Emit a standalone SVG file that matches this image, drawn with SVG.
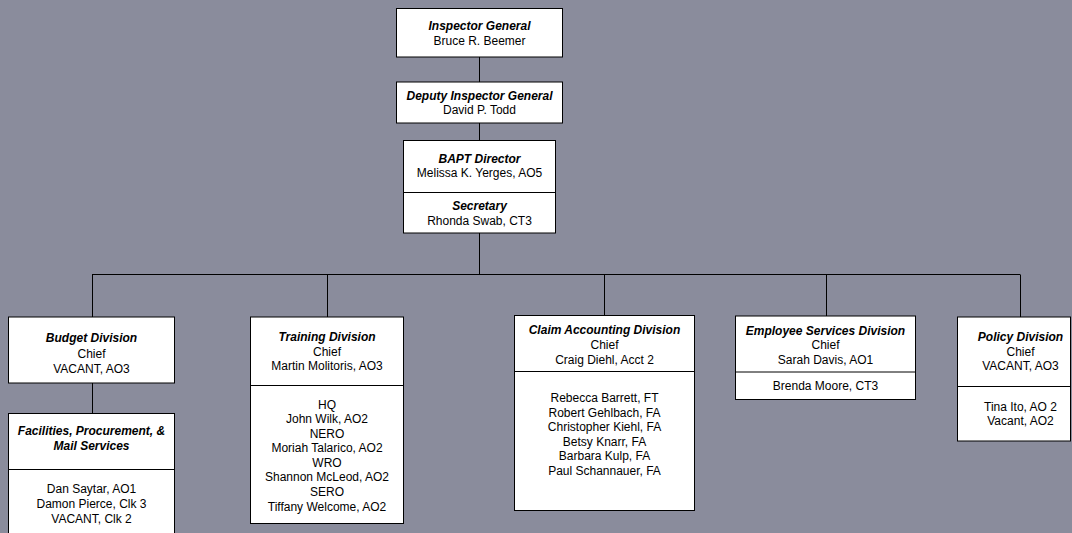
<svg xmlns="http://www.w3.org/2000/svg" width="1072" height="533" viewBox="0 0 1072 533">
<style>
.box{fill:#ffffff;stroke:#000000;stroke-width:1}
.ln{stroke:#000000;stroke-width:1;fill:none}
text{font-family:"Liberation Sans",Arial,sans-serif;font-size:12px;fill:#000000;text-anchor:middle}
.t{font-weight:bold;font-style:italic}
</style>
<rect width="1072" height="533" fill="#8a8c9c"/>
<g id="connectors">
<path class="ln" d="M479.5 57V82M479.5 123V140M479.5 233V274.5M92 274.5H1020M92.5 274.5V317M327.5 274.5V317M604.5 274.5V315M826.5 274.5V316M1020.5 274.5V317M92.5 383V413"/>
</g>
<g id="inspector-general">
<rect class="box" x="396.5" y="8.5" width="166" height="48.5"/>
<text class="t" x="479.5" y="29.5">Inspector General</text>
<text x="479.5" y="44.5">Bruce R. Beemer</text>
</g>
<g id="deputy-inspector-general">
<rect class="box" x="396.5" y="82" width="166" height="41"/>
<text class="t" x="479.5" y="99.5">Deputy Inspector General</text>
<text x="479.5" y="113.5">David P. Todd</text>
</g>
<g id="bapt-director">
<rect class="box" x="403.5" y="140.5" width="152" height="92.5"/>
<line class="ln" x1="403.5" y1="192.5" x2="555.5" y2="192.5"/>
<text class="t" x="479.5" y="162.5">BAPT Director</text>
<text x="479.5" y="177">Melissa K. Yerges, AO5</text>
<text class="t" x="479.5" y="209.5">Secretary</text>
<text x="479.5" y="224.5">Rhonda Swab, CT3</text>
</g>
<g id="budget-division">
<rect class="box" x="8.5" y="317" width="166" height="66"/>
<text class="t" x="91.5" y="341.5">Budget Division</text>
<text x="91.5" y="357.5">Chief</text>
<text x="91.5" y="372.5">VACANT, AO3</text>
</g>
<g id="facilities">
<rect class="box" x="8.5" y="413.5" width="166" height="130"/>
<line class="ln" x1="8.5" y1="469.5" x2="174.5" y2="469.5"/>
<text class="t" x="91.5" y="435">Facilities, Procurement, &amp;</text>
<text class="t" x="91.5" y="449.5">Mail Services</text>
<text x="91.5" y="493">Dan Saytar, AO1</text>
<text x="91.5" y="507.5">Damon Pierce, Clk 3</text>
<text x="91.5" y="523">VACANT, Clk 2</text>
</g>
<g id="training-division">
<rect class="box" x="250.5" y="317" width="153" height="206.5"/>
<line class="ln" x1="250.5" y1="385.5" x2="403.5" y2="385.5"/>
<text class="t" x="327" y="341">Training Division</text>
<text x="327" y="356">Chief</text>
<text x="327" y="370">Martin Molitoris, AO3</text>
<text x="327" y="408.5">HQ</text>
<text x="327" y="423">John Wilk, AO2</text>
<text x="327" y="437.5">NERO</text>
<text x="327" y="452">Moriah Talarico, AO2</text>
<text x="327" y="466.5">WRO</text>
<text x="327" y="481">Shannon McLeod, AO2</text>
<text x="327" y="495.5">SERO</text>
<text x="327" y="510.5">Tiffany Welcome, AO2</text>
</g>
<g id="claim-accounting-division">
<rect class="box" x="514.5" y="315.5" width="180" height="195"/>
<line class="ln" x1="514.5" y1="371.5" x2="694.5" y2="371.5"/>
<text class="t" x="604.5" y="333.5">Claim Accounting Division</text>
<text x="604.5" y="348.5">Chief</text>
<text x="604.5" y="363.5">Craig Diehl, Acct 2</text>
<text x="604.5" y="402">Rebecca Barrett, FT</text>
<text x="604.5" y="416.5">Robert Gehlbach, FA</text>
<text x="604.5" y="431">Christopher Kiehl, FA</text>
<text x="604.5" y="445.5">Betsy Knarr, FA</text>
<text x="604.5" y="460">Barbara Kulp, FA</text>
<text x="604.5" y="475">Paul Schannauer, FA</text>
</g>
<g id="employee-services-division">
<rect class="box" x="735.5" y="316" width="180" height="83.5"/>
<line class="ln" x1="735.5" y1="372" x2="915.5" y2="372"/>
<text class="t" x="825.5" y="334.5">Employee Services Division</text>
<text x="825.5" y="349">Chief</text>
<text x="825.5" y="363.5">Sarah Davis, AO1</text>
<text x="825.5" y="390">Brenda Moore, CT3</text>
</g>
<g id="policy-division">
<rect class="box" x="957.5" y="317" width="113" height="124"/>
<line class="ln" x1="957.5" y1="386.5" x2="1070.5" y2="386.5"/>
<text class="t" x="1020.5" y="341">Policy Division</text>
<text x="1020.5" y="356">Chief</text>
<text x="1020.5" y="369.5">VACANT, AO3</text>
<text x="1020.5" y="410.5">Tina Ito, AO 2</text>
<text x="1020.5" y="425">Vacant, AO2</text>
</g>
</svg>
